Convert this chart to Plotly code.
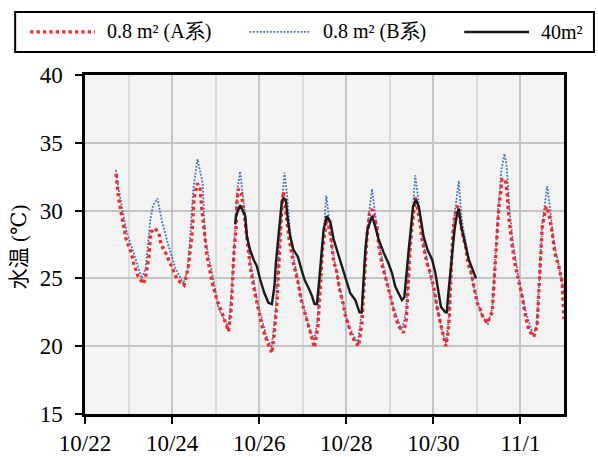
import pandas as pd
import plotly.graph_objects as go

BASE = pd.Timestamp("2023-10-22")

# 0.8 m2 (A) - hours since 10/22 00:00, water temperature
a_hours = [17.1, 18.4, 20.4, 22.6, 25.2, 26.9, 29.1, 31.3, 32.2, 33.5, 35.3, 36.2, 38.6, 40.8, 41.9, 44.1, 46.9, 49.3, 50.9, 54.6,
           57.0, 58.9, 60.1, 61.8, 63.4, 64.4, 65.7, 67.1, 69.9, 72.7, 75.4, 77.2, 79.1,
           80.5, 81.3, 82.2, 83.3, 83.7, 84.6, 86.1, 87.9, 89.2, 91.0, 92.9, 95.3, 97.5, 100.2, 103.0,
           104.4, 105.8, 106.6, 107.6, 108.5, 109.4, 111.3, 112.5, 114.9, 117.1, 119.2, 121.0, 122.9, 126.5,
           128.4, 129.1, 130.2, 130.9, 132.4, 133.3, 135.5, 137.0, 138.9, 140.3, 142.2, 143.4, 145.3, 147.1, 150.8,
           152.7, 153.5, 154.5, 155.4, 156.8, 158.2, 160.9, 161.8, 163.7, 165.5, 167.3, 169.2, 171.0, 172.8, 175.6,
           177.1, 177.8, 178.4, 179.3, 180.2, 182.1, 184.4, 185.7, 188.5, 190.3, 192.2, 194.0, 195.9, 197.3, 198.9,
           200.1, 200.8, 201.4, 201.9, 202.6, 203.7, 205.6, 207.8, 209.7, 211.1, 213.0, 214.8, 216.1, 217.9, 219.2, 221.6,
           224.4, 225.3, 226.2, 227.1, 228.0, 229.0, 229.9, 231.7, 232.6, 233.5, 235.4, 237.2, 239.0, 240.9, 242.8, 244.6, 247.3,
           249.2, 250.1, 251.0, 252.0, 254.2, 255.6, 257.5, 258.9, 261.1, 263.0, 264.0]
a_temp = [32.7, 31.0, 29.5, 27.9, 27.0, 26.1, 25.2, 24.7, 24.6, 25.2, 26.7, 28.4, 28.7, 28.3, 27.5, 27.0, 26.1, 25.4, 24.9, 24.5,
          25.9, 28.1, 30.9, 32.0, 31.7, 30.1, 28.6, 26.8, 24.8, 23.4, 22.5, 21.8, 21.1,
          22.7, 24.9, 27.1, 28.8, 30.6, 31.6, 31.3, 29.6, 27.9, 25.9, 24.4, 22.9, 21.5, 20.4, 19.5,
          21.0, 23.2, 25.4, 27.9, 30.3, 31.4, 29.3, 27.9, 26.1, 24.9, 23.4, 22.5, 21.5, 19.9,
          21.5, 23.4, 25.4, 27.1, 28.6, 29.6, 28.0, 26.3, 25.4, 24.2, 23.2, 22.3, 21.5, 20.7, 20.0,
          21.8, 23.9, 25.9, 28.1, 29.8, 30.1, 28.8, 27.5, 26.0, 25.2, 24.2, 23.2, 22.2, 21.5, 21.0,
          22.0, 23.9, 25.4, 27.4, 28.8, 31.0, 29.3, 27.9, 26.1, 25.4, 24.4, 22.9, 21.7, 21.0, 20.0,
          21.0, 22.2, 24.2, 25.9, 28.1, 29.6, 30.4, 28.4, 27.4, 26.1, 25.3, 24.1, 23.2, 22.7, 22.2, 21.7,
          22.5, 24.4, 26.6, 28.1, 30.1, 31.3, 32.3, 32.3, 31.3, 29.6, 27.4, 25.9, 24.9, 23.7, 22.2, 21.2, 20.7,
          21.5, 23.9, 26.9, 28.8, 30.3, 29.8, 28.4, 26.9, 25.9, 24.7, 22.0]

# 0.8 m2 (B)
b_hours = [17.0, 18.5, 21.0, 23.0, 26.0, 29.0, 31.3, 33.5, 34.6, 35.9, 37.5, 39.9, 42.3, 46.0, 49.7, 54.2,
           56.5, 57.9, 59.7, 62.0, 64.9, 66.2, 70.8, 73.5, 78.2,
           79.5, 81.0, 82.5, 84.0, 85.5, 87.0, 88.5, 91.0, 95.0, 100.0, 102.8,
           105.0, 107.0, 108.5, 110.0, 111.5, 113.0, 115.0, 119.0, 123.0, 126.3,
           128.0, 129.5, 131.0, 133.0, 134.5, 136.5, 140.0, 145.0, 150.3,
           152.5, 154.5, 156.5, 158.2, 160.0, 162.0, 166.0, 170.0, 174.5,
           177.0, 178.5, 180.0, 182.0, 184.0, 186.0, 189.0, 193.0, 197.0, 199.0,
           200.5, 202.0, 203.5, 206.0, 207.5, 210.0, 214.0, 218.0, 222.0,
           224.5, 226.0, 228.0, 229.5, 231.2, 232.5, 234.0, 236.0, 239.0, 243.0, 247.0,
           249.0, 250.5, 252.0, 254.7, 256.5, 258.0, 261.0, 264.0]
b_temp = [33.0, 31.6, 29.8, 28.4, 27.2, 25.9, 25.0, 25.8, 27.4, 29.2, 30.4, 30.9, 29.3, 27.4, 25.8, 24.6,
          25.6, 27.9, 31.6, 33.8, 32.0, 27.9, 24.9, 22.8, 21.6,
          21.8, 24.5, 28.0, 31.5, 32.9, 31.0, 29.0, 26.3, 23.3, 20.7, 19.9,
          22.5, 27.0, 30.5, 32.8, 31.0, 28.5, 26.5, 23.7, 21.6, 20.4,
          21.8, 24.5, 27.5, 31.1, 29.5, 27.0, 24.5, 21.6, 20.2,
          22.5, 26.5, 29.8, 31.6, 29.8, 27.5, 25.0, 22.8, 21.2,
          22.5, 26.0, 29.0, 32.6, 30.5, 28.0, 26.0, 23.5, 21.0, 20.2,
          22.0, 26.0, 29.5, 32.2, 29.5, 27.5, 24.5, 22.5, 21.6,
          22.8, 26.5, 30.5, 33.0, 34.2, 33.2, 30.0, 27.5, 25.0, 22.5, 20.8,
          21.5, 25.0, 29.0, 31.8, 30.0, 28.0, 26.0, 24.0]

# 40 m2
c_hours = [82.8, 83.2, 85.5, 88.3, 89.2, 91.0, 92.9, 94.7, 96.6, 98.9, 101.1, 103.0,
           104.4, 105.2, 106.6, 107.6, 108.5, 109.4, 110.7, 111.8, 113.1, 114.9, 117.3, 119.2, 121.0, 123.2, 125.1, 126.5, 127.8,
           129.1, 130.2, 131.5, 133.3, 135.2, 137.0, 138.9, 141.6, 143.4, 146.2, 149.0, 151.3, 152.5,
           153.5, 154.5, 155.7, 158.2, 160.0, 161.8, 164.6, 167.3, 169.2, 171.0, 172.8, 174.7, 176.0,
           177.1, 178.4, 179.7, 180.8, 182.4, 183.9, 185.2, 186.6, 188.8, 191.3, 193.1, 194.4, 196.2, 198.6, 199.4,
           200.1, 201.4, 202.6, 203.7, 205.1, 206.0, 207.4, 209.3, 211.5, 215.5]
c_temp = [29.0, 29.6, 30.4, 29.6, 28.1, 27.1, 26.4, 25.9, 24.9, 23.9, 23.2, 23.1,
          24.4, 26.1, 28.1, 29.3, 30.7, 30.9, 30.8, 29.3, 28.1, 27.1, 26.6, 25.7, 24.9, 24.3, 23.7, 23.1, 23.1,
          24.9, 26.6, 28.6, 29.6, 29.2, 27.9, 27.1, 25.9, 25.2, 23.9, 23.4, 22.5, 22.5,
          25.4, 27.1, 28.6, 29.6, 28.8, 27.9, 26.9, 26.1, 25.4, 24.4, 23.9, 23.4, 23.6,
          25.4, 27.1, 28.8, 30.3, 30.8, 30.3, 29.3, 28.1, 27.1, 26.4, 25.4, 24.4, 22.9, 22.5, 22.5,
          23.7, 25.4, 27.1, 28.6, 29.8, 30.1, 28.8, 27.6, 26.4, 25.0]

tick_dates = ["2023-10-22", "2023-10-24", "2023-10-26", "2023-10-28", "2023-10-30", "2023-11-01"]
tick_labels = ["10/22", "10/24", "10/26", "10/28", "10/30", "11/1"]
y_ticks = [15, 20, 25, 30, 35, 40]

series_names = ["0.8 m² (A系)", "0.8 m² (B系)", "40m²"]
series_colors = ["#F52A2A", "#4472C4", "#1A1A1A"]


def to_time(hours):
    return [BASE + pd.Timedelta(hours=h) for h in hours]


SERIF = "Liberation Serif, DejaVu Serif, Noto Serif, serif"

A_LINE = dict(color=series_colors[0], width=3.3, dash="3.3px,3.1px")
B_LINE = dict(color=series_colors[1], width=1.8, dash="1.8px,1.6px")
C_LINE = dict(color=series_colors[2], width=2.4)

fig = go.Figure()
fig.add_trace(go.Scatter(x=to_time(b_hours), y=b_temp, mode="lines", name=series_names[1], line=B_LINE))
fig.add_trace(go.Scatter(x=to_time(a_hours), y=a_temp, mode="lines", name=series_names[0], line=A_LINE))
fig.add_trace(go.Scatter(x=to_time(c_hours), y=c_temp, mode="lines", name=series_names[2], line=C_LINE))

# hand-built legend box (paper coordinates relative to the plot area)
LEG_Y = 1.127
shapes = [
    dict(type="rect", xref="paper", yref="paper", x0=-0.1458, x1=1.0625, y0=1.068, y1=1.186,
         line=dict(color="black", width=2), fillcolor="white", layer="above"),
    dict(type="line", xref="paper", yref="paper", x0=-0.1146, x1=0.0208, y0=LEG_Y, y1=LEG_Y, line=A_LINE),
    dict(type="line", xref="paper", yref="paper", x0=0.3437, x1=0.4687, y0=LEG_Y, y1=LEG_Y, line=B_LINE),
    dict(type="line", xref="paper", yref="paper", x0=0.7917, x1=0.9271, y0=LEG_Y, y1=LEG_Y, line=C_LINE),
]
legend_text_x = [0.0417, 0.4937, 0.9479]
annotations = [
    dict(text=series_names[i], xref="paper", yref="paper", x=legend_text_x[i], y=LEG_Y,
         xanchor="left", yanchor="middle", showarrow=False,
         font=dict(family=SERIF, size=20, color="black"))
    for i in range(3)
]
annotations.append(dict(
    text="<span style='font-family:Noto Sans CJK JP'>水温</span> (℃)",
    xref="paper", yref="paper", x=-0.142, y=0.495,
    xanchor="center", yanchor="middle", textangle=-90, showarrow=False,
    font=dict(family=SERIF, size=21, color="black"),
))

fig.update_layout(
    width=598, height=457,
    margin=dict(l=85, r=34, t=75, b=43, autoexpand=False),
    paper_bgcolor="white",
    plot_bgcolor="#F2F3F2",
    font=dict(family=SERIF, size=21, color="black"),
    showlegend=False,
    shapes=shapes,
    annotations=annotations,
    xaxis=dict(
        type="date",
        range=["2023-10-22", "2023-11-02"],
        tickvals=tick_dates, ticktext=tick_labels,
        ticks="outside", ticklen=7, tickwidth=2, tickcolor="black",
        showline=True, linecolor="black", linewidth=2.5, mirror=True,
        showgrid=True, gridcolor="#C4C4C4", gridwidth=2,
        minor=dict(dtick=86400000, tick0="2023-10-22", showgrid=True, gridcolor="#DADADA", gridwidth=2),
        tickfont=dict(family=SERIF, size=23),
        ticklabelstandoff=0,
        zeroline=False,
    ),
    yaxis=dict(
        range=[15, 40],
        tickvals=y_ticks,
        ticks="outside", ticklen=7, tickwidth=2, tickcolor="black",
        showline=True, linecolor="black", linewidth=2.5, mirror=True,
        showgrid=True, gridcolor="#C4C4C4", gridwidth=2,
        tickfont=dict(family=SERIF, size=23),
        ticklabelstandoff=8,
        zeroline=False,
    ),
)

fig.write_html("out.html")
